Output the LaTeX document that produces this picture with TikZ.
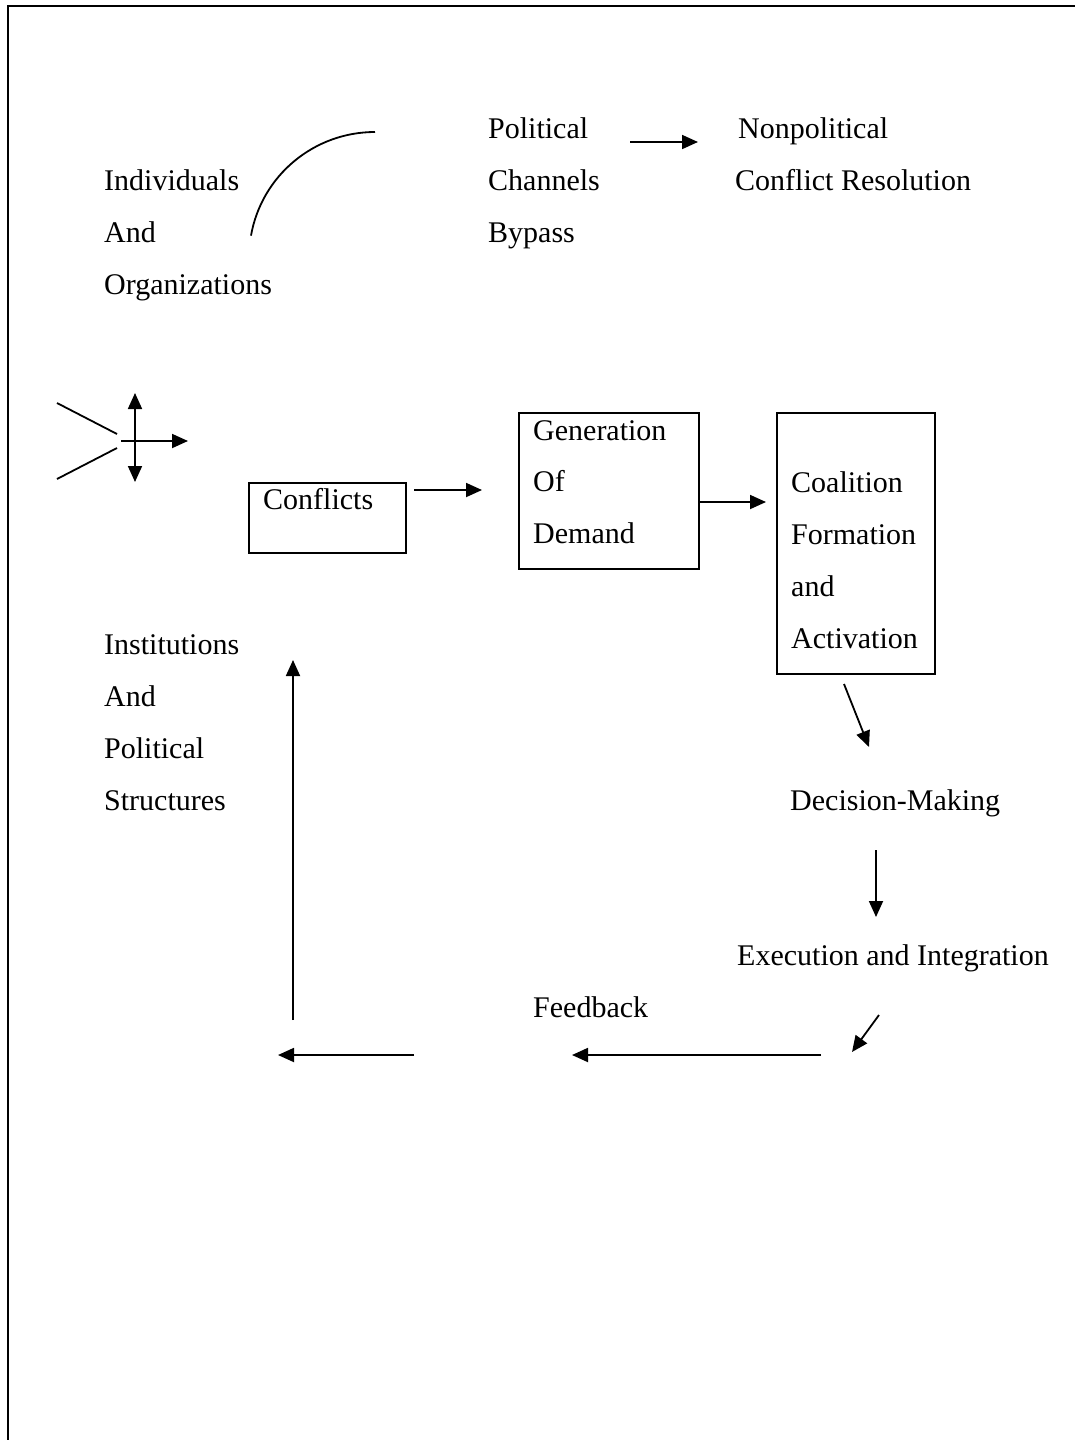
\documentclass[tikz,border=0pt]{standalone}
\usepackage{fontspec}
\setmainfont{Liberation Serif}
\usetikzlibrary{arrows.meta}
\begin{document}
\begin{tikzpicture}[x=1pt,y=-1pt,
  txt/.style={anchor=base west,inner sep=0pt,font=\fontsize{30}{36}\selectfont},
  boxnode/.style={draw,line width=2pt,inner sep=0pt},
  arr/.style={line width=1.8pt,-{Triangle[length=16pt,width=14pt]}},
  plain/.style={line width=1.8pt}]
\useasboundingbox (0,0) rectangle (1075,1440);
% frame
\draw[line width=2pt] (8,1440) -- (8,6) -- (1075,6);

% top labels
\node[txt] (ind1) at (104,190) {Individuals};
\node[txt] (ind2) at (104,242) {And};
\node[txt] (ind3) at (104,294) {Organizations};
\node[txt] (pol1) at (488,138) {Political};
\node[txt] (pol2) at (488,190) {Channels};
\node[txt] (pol3) at (488,242) {Bypass};
\node[txt] (np1) at (738,138) {Nonpolitical};
\node[txt] (np2) at (735,190) {Conflict Resolution};

\coordinate (arcS) at (251,235.6);
\coordinate (arcE) at (375,132);
\draw[plain] (arcS) .. controls (261.6,175.5) and (314,132) .. (arcE);

\coordinate (pa1) at (630,142);
\coordinate (pa2) at (698,142);
\draw[arr] (pa1) -- (pa2);

% cross symbol
\coordinate (c1a) at (57,403);
\coordinate (c1b) at (117,434);
\coordinate (c2a) at (57,479);
\coordinate (c2b) at (117,448);
\coordinate (ch1) at (121,441);
\coordinate (ch2) at (188,441);
\coordinate (cv1) at (135,393);
\coordinate (cv2) at (135,482);
\draw[plain] (c1a) -- (c1b);
\draw[plain] (c2a) -- (c2b);
\draw[arr] (ch1) -- (ch2);
\draw[line width=1.8pt,{Triangle[length=16pt,width=14pt]}-{Triangle[length=16pt,width=14pt]}] (cv1) -- (cv2);

% boxes
\node[boxnode,minimum width=157pt,minimum height=70pt] (conf) at (327.5,518) {};
\node[txt] (conft) at (263,509) {Conflicts};
\node[boxnode,minimum width=180pt,minimum height=156pt] (gen) at (609,491) {};
\node[txt] (gen1) at (533,440) {Generation};
\node[txt] (gen2) at (533,491) {Of};
\node[txt] (gen3) at (533,543) {Demand};
\node[boxnode,minimum width=158pt,minimum height=261pt] (coal) at (856,543.5) {};
\node[txt] (coal1) at (791,492) {Coalition};
\node[txt] (coal2) at (791,544) {Formation};
\node[txt] (coal3) at (791,596) {and};
\node[txt] (coal4) at (791,648) {Activation};

\coordinate (a1s) at (414,490);
\coordinate (a1e) at (482,490);
\draw[arr] (a1s) -- (a1e);
\coordinate (a2e) at (766,502);
\draw[arr] (gen.east |- a2e) -- (a2e);

% right column
\node[txt] (dec) at (790,810) {Decision-Making};
\node[txt] (exe) at (737,965) {Execution and Integration};
\node[txt] (fb) at (533,1017) {Feedback};
\coordinate (a3s) at (844,684);
\coordinate (a3e) at (869,747);
\draw[arr] (a3s) -- (a3e);
\coordinate (a4s) at (876,850);
\coordinate (a4e) at (876,917);
\draw[arr] (a4s) -- (a4e);
\coordinate (a5s) at (879,1015);
\coordinate (a5e) at (852,1052);
\draw[arr] (a5s) -- (a5e);

% bottom feedback
\coordinate (b1s) at (821,1055);
\coordinate (b1e) at (572,1055);
\draw[arr] (b1s) -- (b1e);
\coordinate (b2s) at (414,1055);
\coordinate (b2e) at (278,1055);
\draw[arr] (b2s) -- (b2e);
\coordinate (b3s) at (293,1020);
\coordinate (b3e) at (293,660);
\draw[arr] (b3s) -- (b3e);

\node[txt] (ins1) at (104,654) {Institutions};
\node[txt] (ins2) at (104,706) {And};
\node[txt] (ins3) at (104,758) {Political};
\node[txt] (ins4) at (104,810) {Structures};
\end{tikzpicture}
\end{document}
